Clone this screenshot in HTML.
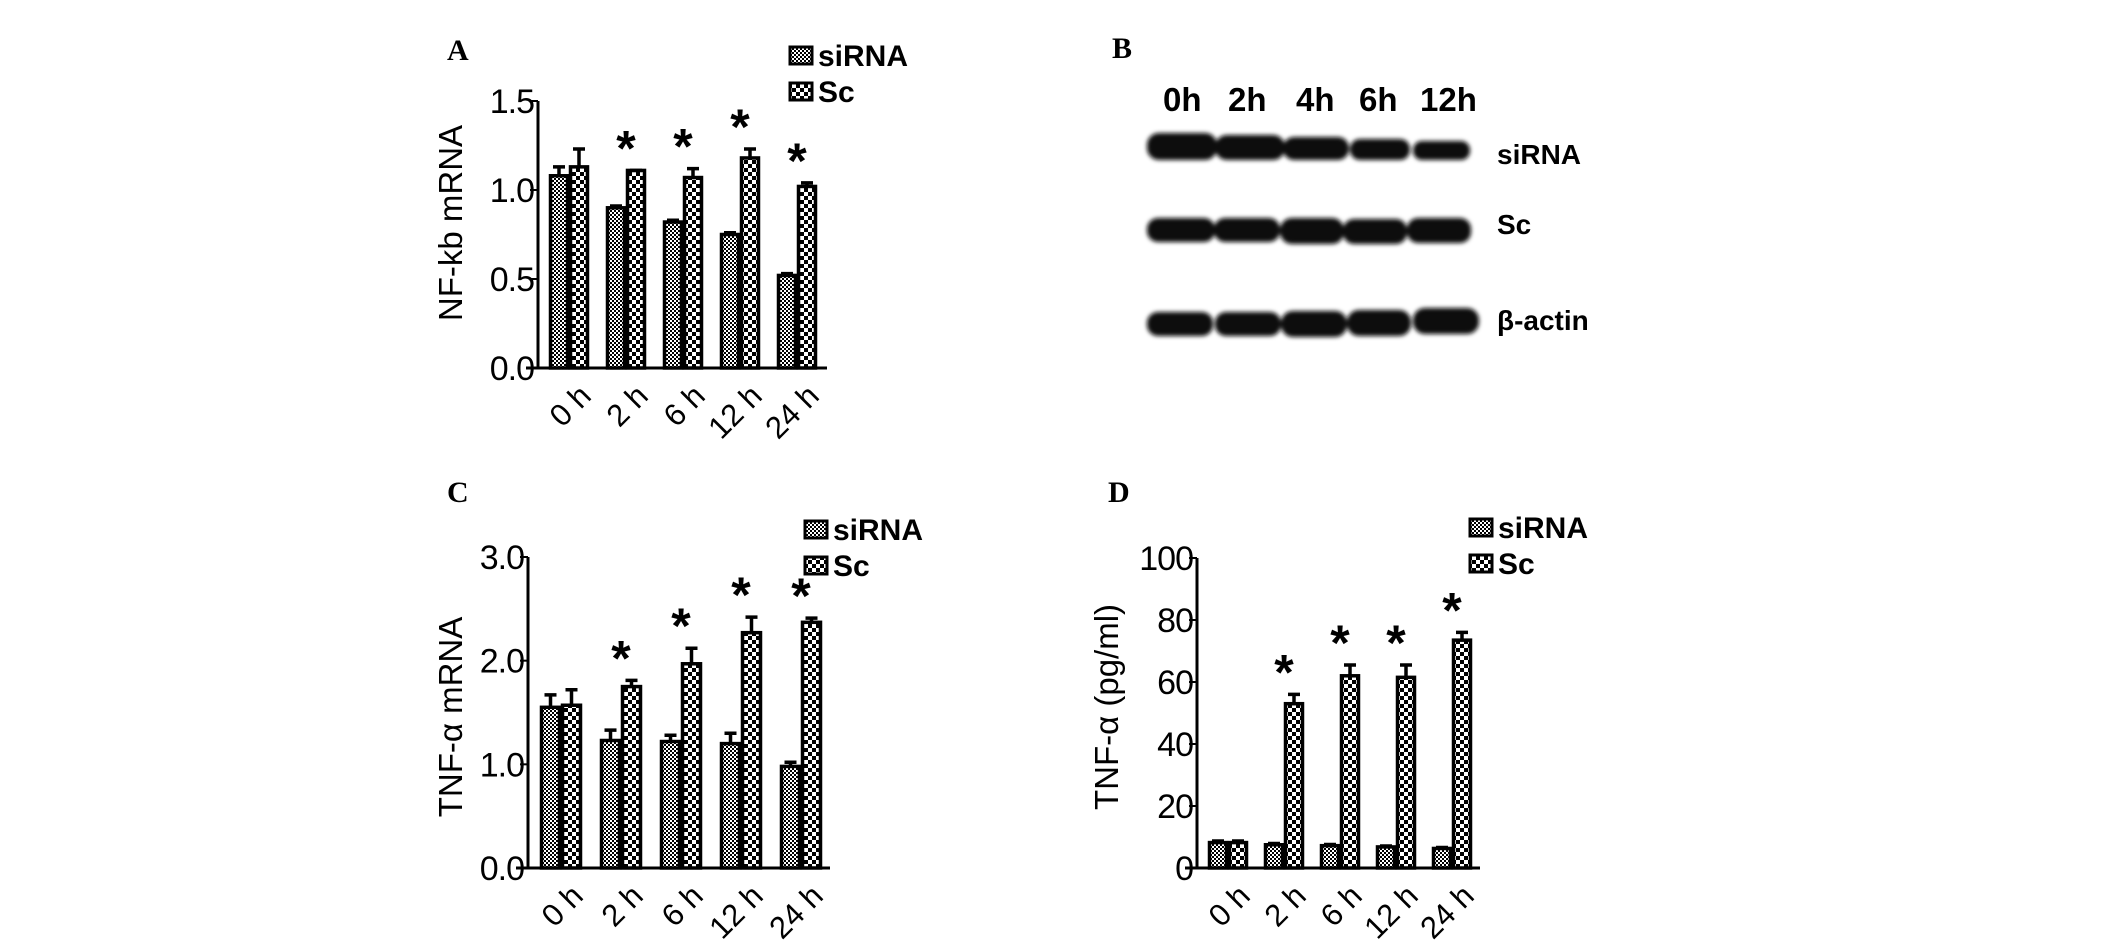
<!DOCTYPE html>
<html><head><meta charset="utf-8"><style>
html,body{margin:0;padding:0;background:#fff;}
svg{display:block;font-family:"Liberation Sans",Arial,sans-serif;}
</style></head><body>
<svg id="fig" width="2126" height="941" viewBox="0 0 2126 941" xmlns="http://www.w3.org/2000/svg">
<defs>
<pattern id="fine" width="4" height="4" patternUnits="userSpaceOnUse"><rect width="4" height="4" fill="#fff"/><rect width="2" height="2" fill="#000"/><rect x="2" y="2" width="2" height="2" fill="#000"/></pattern>
<pattern id="coarse" width="8" height="8" patternUnits="userSpaceOnUse"><rect width="8" height="8" fill="#fff"/><rect width="4" height="4" fill="#000"/><rect x="4" y="4" width="4" height="4" fill="#000"/></pattern>
<filter id="blur"><feGaussianBlur stdDeviation="2"/></filter>
</defs>
<g id="blot">
<text x="1112" y="58" font-family="Liberation Serif,serif" font-weight="bold" font-size="30">B</text>
<g font-weight="bold" font-size="33">
<text x="1163" y="111">0h</text><text x="1228" y="111">2h</text><text x="1296" y="111">4h</text><text x="1359" y="111">6h</text><text x="1420" y="111">12h</text>
</g>
<g filter="url(#blur)" fill="#0a0a0a">
<rect x="1147" y="133" width="70" height="27" rx="12"/><rect x="1215" y="135" width="70" height="25" rx="12"/><rect x="1283" y="137" width="66" height="23" rx="11"/><rect x="1350" y="139" width="60" height="21" rx="10"/><rect x="1413" y="141" width="57" height="19" rx="9"/>
<rect x="1147" y="218" width="68" height="24" rx="11"/><rect x="1214" y="218" width="66" height="24" rx="11"/><rect x="1280" y="218" width="64" height="26" rx="12"/><rect x="1343" y="219" width="64" height="25" rx="11"/><rect x="1407" y="218" width="64" height="25" rx="11"/>
<rect x="1147" y="312" width="66" height="24" rx="11"/><rect x="1215" y="312" width="66" height="24" rx="11"/><rect x="1281" y="311" width="66" height="26" rx="12"/><rect x="1347" y="310" width="64" height="26" rx="12"/><rect x="1413" y="308" width="66" height="26" rx="12"/>
</g>
<text x="1497" y="164" font-weight="bold" font-size="28">siRNA</text>
<text x="1497" y="234" font-weight="bold" font-size="28">Sc</text>
<text x="1497" y="330" font-weight="bold" font-size="28">β-actin</text>
</g>
</svg>
<script>
const categories = ["0 h","2 h","6 h","12 h","24 h"];
const aSi = [1.08,0.90,0.82,0.75,0.52];
const aSiErr = [0.05,0.01,0.01,0.01,0.01];
const aSc = [1.13,1.11,1.07,1.18,1.02];
const aScErr = [0.10,0.0,0.05,0.05,0.02];
const aTicks = ["0.0","0.5","1.0","1.5"];
const cSi = [1.55,1.23,1.22,1.20,0.98];
const cSiErr = [0.12,0.10,0.06,0.10,0.04];
const cSc = [1.57,1.75,1.97,2.27,2.37];
const cScErr = [0.15,0.06,0.15,0.15,0.04];
const cTicks = ["0.0","1.0","2.0","3.0"];
const dSi = [8.2,7.5,7.2,6.8,6.3];
const dSiErr = [0.5,0.4,0.4,0.3,0.3];
const dSc = [8.2,53,62,61.5,73.5];
const dScErr = [0.5,3,3.5,4,2.5];
const dTicks = ["0","20","40","60","80","100"];
const stars = [false,true,true,true,true];

const NS="http://www.w3.org/2000/svg";
const svg=document.getElementById('fig');
function mk(tag,attrs,parent){const e=document.createElementNS(NS,tag);for(const k in attrs)e.setAttribute(k,attrs[k]);parent.appendChild(e);return e;}

function panel(o){
  const g=mk('g',{},svg);
  
  
  const ymax=parseFloat(o.ticks[o.ticks.length-1]);
  const y=v=>o.y0-(v/ymax)*(o.y0-o.yTop);
  const x=i=>o.x0+o.first+i*o.step;
  const lab=mk('text',{x:o.lx,y:o.ly,'font-family':'Liberation Serif,serif','font-weight':'bold','font-size':30},g);lab.textContent=o.id.toUpperCase();
  
  
  for(let i=0;i<categories.length;i++){
    [[o.si,o.siE,'fine',0],[o.sc,o.scE,'coarse',1]].forEach(([vals,errs,pat,k])=>{
      const bx=x(i)+k*o.bw, top=y(vals[i]);
      const r=mk('rect',{x:bx+1.5,y:top,width:o.bw-3,height:o.y0-top,fill:'url(#'+pat+')',stroke:'#000','stroke-width':3.5},g);
      
      
      const et=y(vals[i]+errs[i]), cx=bx+o.bw/2;
      const e=mk('path',{d:`M${cx} ${top}V${et}M${cx-6} ${et}H${cx+6}`,stroke:'#000','stroke-width':3.5,fill:'none'},g);
      
      
    });
    if(stars[i]){
      const t=Math.min(y(o.si[i]+o.siE[i]),y(o.sc[i]+o.scE[i]));
      const s=mk('text',{x:x(i)+o.bw,y:t-27+22,'font-size':50,'font-weight':'bold','text-anchor':'middle'},g);s.textContent='*';
      
      
    }
    const cx=x(i)+o.bw+8, cy=o.y0+14;
    const t=mk('text',{x:cx,y:cy,'font-size':31,'text-anchor':'end','dominant-baseline':'hanging',transform:`rotate(-45 ${cx} ${cy})`},g);t.textContent=categories[i];
    
    
  }
  const ax=mk('path',{d:`M${o.x0} ${o.yTop}V${o.y0}M${o.x0-12} ${o.y0}H${o.xEnd}`,stroke:'#000','stroke-width':3,fill:'none'},g);
  
  
  o.ticks.forEach(tv=>{
    const ty=y(parseFloat(tv));
    mk('path',{d:`M${o.x0-8} ${ty}H${o.x0}`,stroke:'#000','stroke-width':2},g);
    const t=mk('text',{x:o.x0-4,y:ty+12,'font-size':34,'text-anchor':'end','letter-spacing':-1},g);t.textContent=tv;
    
    
  });
  const tt=mk('text',{x:o.tx,y:o.ty,'font-size':33,'text-anchor':'middle',transform:`rotate(-90 ${o.tx} ${o.ty})`},g);tt.textContent=o.title;
  
  
  [['siRNA','fine',o.legY],['Sc','coarse',o.legY+36]].forEach(([n,p,ly])=>{
    const r=mk('rect',{x:o.legX,y:ly,width:22,height:17,fill:'url(#'+p+')',stroke:'#000','stroke-width':3},g);
    
    
    const t=mk('text',{x:o.legX+28,y:ly+19,'font-size':30,'font-weight':'bold'},g);t.textContent=n;
    
    
  });
}
panel({id:'a',si:aSi,siE:aSiErr,sc:aSc,scE:aScErr,ticks:aTicks,x0:538,y0:368,yTop:101,xEnd:827,first:11,step:57,bw:20,lx:447,ly:60,tx:462,ty:223,title:'NF-kb mRNA',legX:790,legY:47});
panel({id:'c',si:cSi,siE:cSiErr,sc:cSc,scE:cScErr,ticks:cTicks,x0:528,y0:868,yTop:557,xEnd:830,first:12,step:60,bw:21,lx:447,ly:502,tx:462,ty:717,title:'TNF-α mRNA',legX:805,legY:521});
panel({id:'d',si:dSi,siE:dSiErr,sc:dSc,scE:dScErr,ticks:dTicks,x0:1197,y0:868,yTop:558,xEnd:1480,first:11,step:56,bw:20,lx:1108,ly:502,tx:1118,ty:707,title:'TNF-α (pg/ml)',legX:1470,legY:519});
</script>
</body></html>
